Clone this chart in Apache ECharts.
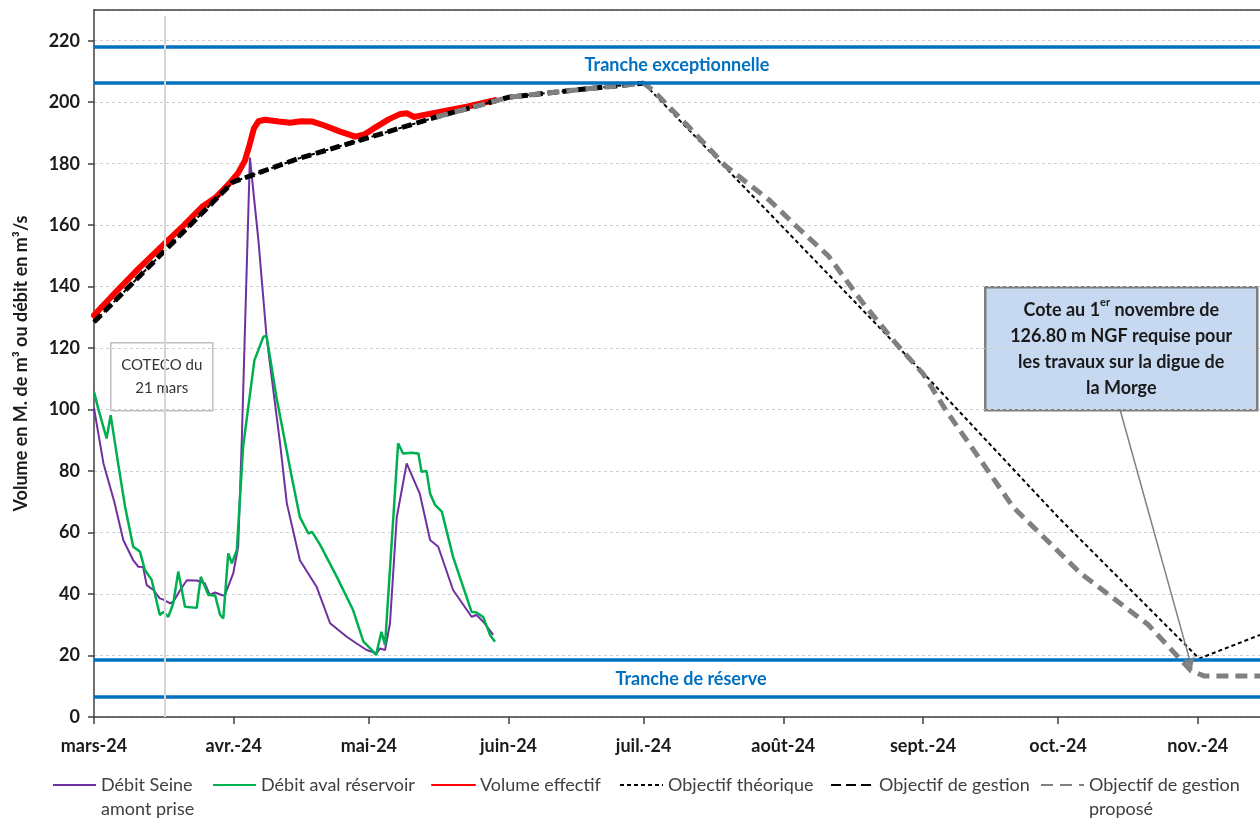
<!DOCTYPE html>
<html>
<head>
<meta charset="utf-8">
<script src="https://cdn.jsdelivr.net/npm/echarts@6/dist/echarts.min.js"></script>
<style>
  html, body { margin: 0; padding: 0; background: #fff; }
  #chart { width: 1260px; height: 818px; }
</style>
</head>
<body>
<div id="chart"></div>
<script>
// x = jours depuis le 1er mars 2024
const monthStarts = [0, 31, 61, 92, 122, 153, 184, 214, 245]
const monthLabels = ['mars-24', 'avr.-24', 'mai-24', 'juin-24', 'juil.-24', 'août-24', 'sept.-24', 'oct.-24', 'nov.-24']

const debitSeine = [
  [0, 100.5], [2.1, 82.5], [4.5, 70], [6.5, 57.6], [8.7, 51], [9.8, 48.9], [10.9, 48.8], [11.7, 42.9],
  [13.2, 41.3], [14.6, 38.6], [15.4, 38.2], [16.9, 37], [17.6, 37.5], [19, 41], [20.6, 44.5], [22.8, 44.4],
  [24.6, 43.5], [25.7, 39.7], [26.9, 40.5], [28.3, 39.7], [29, 39.5], [30.9, 46.7], [32, 55.4], [32.8, 90],
  [34.6, 182], [36.5, 155], [38.3, 123.7], [41.3, 89], [42.8, 69.5], [45.7, 51], [49.4, 42.4], [52.4, 30.5],
  [56.1, 26.1], [58.3, 23.9], [60.5, 21.8], [62.7, 20.7], [63.5, 22.3], [64.6, 21.8], [65.7, 30.5], [67.2, 65],
  [69.4, 82.5], [72.3, 72.7], [74.6, 57.6], [76.4, 55.4], [79.7, 41.3], [83.8, 32.6], [84.9, 33.2], [86.4, 31],
  [88.6, 26.7]
]
const debitAval = [
  [0, 105.8], [1, 100], [2.8, 90.6], [3.7, 98.2], [5.3, 83], [6.9, 68.4], [8.7, 55.4], [10.2, 53.8],
  [11.3, 47.8], [12.8, 44.6], [14.6, 33.2], [15.4, 34.2], [16.5, 32.6], [17.6, 37], [18.7, 47.3], [20.2, 35.9],
  [22.8, 35.5], [23.7, 45.6], [25.4, 39.7], [26.9, 39.5], [28, 33.2], [28.7, 32.1], [29.8, 53.2], [30.6, 50],
  [31.7, 54.3], [33.1, 88], [35.6, 116], [37.6, 123.7], [38.3, 124], [40.5, 104], [43.9, 78], [45.7, 65],
  [47.6, 59.7], [48.4, 60.2], [50.2, 56], [53.9, 45.6], [57.5, 34.8], [59.8, 24.5], [61.3, 22.3], [62.6, 20.2],
  [63.8, 27.7], [64.6, 23.4], [67.5, 89], [68.6, 85.7], [70.5, 86], [72, 85.7], [72.7, 79.8], [73.8, 80],
  [74.6, 72.7], [75.7, 69], [77.2, 66.8], [79.7, 52.1], [83.8, 34.2], [84.9, 34], [86.4, 32.5], [87.9, 26.7],
  [89, 24.5]
]
const volumeEffectif = [
  [0, 130.7], [5, 138.5], [10, 146], [16, 154.5], [20, 160], [24, 166], [27, 169], [30, 173.5], [32, 177],
  [33.5, 181], [34.5, 186], [35.5, 191.5], [36.5, 193.8], [38, 194.3], [41, 193.7], [43.5, 193.3], [46, 193.8],
  [48.5, 193.7], [51, 192.5], [54.5, 190.5], [58, 188.8], [60, 189.5], [62, 191.4], [65.5, 194.5], [68, 196.2],
  [69.5, 196.4], [71, 195.2], [73, 195.8], [77, 196.9], [83, 198.6], [89, 200.7]
]
const objectifGestion = [
  [0, 128.5], [30.8, 174], [45, 181.5], [61, 188.5], [76, 195.2], [92, 201.6], [107, 204], [122, 206.2]
]
const objectifTheorique = [
  [0, 128.5], [30.8, 174], [45, 181.5], [61, 188.5], [76, 195.2], [92, 201.6], [107, 204], [122, 206.2],
  [153, 159.2], [184, 112], [214, 65], [245.3, 19], [258.8, 26.7]
]
const objectifPropose = [
  [76, 195.2], [92, 201.6], [107, 204], [122, 206.2], [124, 204], [132, 192], [140, 179.5], [150, 168],
  [156, 159.5], [163, 150], [170.5, 135], [178, 121.5], [184, 111.7], [189, 100], [204, 68.3], [219, 46.7],
  [234, 30], [243.5, 15], [246.5, 13.3], [258.8, 13.3]
]
// tranches (M. m3)
const trancheExceptionnelle = [206.2, 218.2]
const trancheReserve = [6.5, 18.5]
const cotecoDay = 15.8

const FONT = 'Lato'
const chart = echarts.init(document.getElementById('chart'))

// une légende par entrée, pour placer chaque item comme dans Excel
function legendItem (name, left, label) {
  let twoLine = !!label
  return {
    data: [name],
    left: left,
    top: twoLine ? 749 : 773,
    orient: 'horizontal',
    padding: 0,
    itemWidth: 43,
    itemHeight: 14,
    itemGap: 0,
    selectedMode: false,
    // ligne vide en tête : la 1re ligne du texte reste alignée sur le pictogramme
    formatter: () => twoLine ? '\n' + label : name,
    itemStyle: { opacity: 0 },
    textStyle: {
      fontFamily: FONT,
      fontSize: 18,
      color: '#404040',
      lineHeight: 24
    }
  }
}

const option = {
  animation: false,
  backgroundColor: '#fff',
  grid: { left: 94, right: 0, top: 10, bottom: 101 },
  xAxis: [
    {
      type: 'value',
      min: 0,
      max: 258.8,
      axisLine: { lineStyle: { color: '#404040', width: 1.5 } },
      axisTick: { customValues: monthStarts, length: 7, lineStyle: { color: '#404040', width: 1.5 } },
      axisLabel: {
        customValues: monthStarts,
        formatter: v => monthLabels[monthStarts.indexOf(v)],
        margin: 20,
        fontFamily: FONT,
        fontSize: 18,
        fontWeight: 'bold',
        color: '#1a1a1a'
      },
      splitLine: { show: false }
    },
    {
      type: 'value',
      position: 'top',
      min: 0,
      max: 258.8,
      axisLine: { show: true, lineStyle: { color: '#404040', width: 1.5 } },
      axisTick: { show: false },
      axisLabel: { show: false },
      splitLine: { show: false }
    }
  ],
  yAxis: {
    type: 'value',
    min: 0,
    max: 230,
    interval: 20,
    name: 'Volume en M. de m³ ou débit en m³/s',
    nameLocation: 'middle',
    nameRotate: 90,
    nameGap: 64,
    nameTextStyle: { fontFamily: FONT, fontSize: 18, fontWeight: 'bold', color: '#1a1a1a' },
    axisLine: { show: true, lineStyle: { color: '#404040', width: 1.5 } },
    axisTick: { show: true, length: 6, lineStyle: { color: '#404040', width: 1.5 } },
    axisLabel: {
      showMaxLabel: false,
      margin: 14,
      fontFamily: FONT,
      fontSize: 18,
      fontWeight: 'bold',
      color: '#1a1a1a'
    },
    splitLine: { lineStyle: { color: '#cfcfcf', width: 1, type: [3, 3] } }
  },
  legend: [
    legendItem('Débit Seine amont prise', 52, 'Débit Seine\namont prise'),
    legendItem('Débit aval réservoir', 212),
    legendItem('Volume effectif', 431),
    legendItem('Objectif théorique', 619),
    legendItem('Objectif de gestion', 830),
    legendItem('Objectif de gestion proposé', 1040, 'Objectif de gestion\nproposé')
  ],
  graphic: [
    {
      type: 'group',
      left: 110,
      top: 342,
      children: [
        { type: 'rect', shape: { width: 102, height: 68 }, style: { fill: '#fff', stroke: '#bfbfbf', lineWidth: 1.5 } },
        {
          type: 'text',
          x: 51,
          y: 34,
          style: {
            text: 'COTECO du\n21 mars',
            align: 'center',
            verticalAlign: 'middle',
            fontFamily: FONT,
            fontSize: 15,
            lineHeight: 23,
            fill: '#333'
          }
        }
      ]
    },
    {
      type: 'group',
      left: 984,
      top: 286,
      children: [
        { type: 'rect', shape: { width: 272, height: 123 }, style: { fill: '#c6d9f1', stroke: '#7f7f7f', lineWidth: 2.5 } },
        {
          type: 'text',
          x: 136,
          y: 62,
          style: {
            text: 'Cote au 1{sup|er} novembre de\n126.80 m NGF requise pour\nles travaux sur la digue de\nla Morge',
            align: 'center',
            verticalAlign: 'middle',
            fontFamily: FONT,
            fontSize: 18,
            fontWeight: 'bold',
            lineHeight: 26,
            fill: '#1a1a1a',
            rich: {
              sup: { fontFamily: FONT, fontSize: 11, fontWeight: 'bold', fill: '#1a1a1a', verticalAlign: 'top', padding: [0, 0, 8, 0] }
            }
          }
        }
      ]
    }
  ],
  series: [
    {
      name: 'Débit Seine amont prise',
      type: 'line',
      symbol: 'none',
      data: debitSeine,
      lineStyle: { color: '#7030a0', width: 2 },
      itemStyle: { color: '#7030a0' },
      markLine: {
        silent: true,
        symbol: 'none',
        animation: false,
        label: { show: false },
        lineStyle: { color: '#0070c0', width: 3.5, type: 'solid' },
        data: [
          { yAxis: trancheExceptionnelle[1] },
          {
            yAxis: trancheExceptionnelle[0],
            label: {
              show: true,
              position: 'middle',
              distance: 9,
              formatter: 'Tranche exceptionnelle',
              fontFamily: FONT,
              fontSize: 18,
              fontWeight: 'bold',
              color: '#0070c0'
            }
          },
          { yAxis: trancheReserve[1] },
          {
            yAxis: trancheReserve[0],
            label: {
              show: true,
              position: 'middle',
              distance: 9,
              offset: [14, 0],
              formatter: 'Tranche de réserve',
              fontFamily: FONT,
              fontSize: 18,
              fontWeight: 'bold',
              color: '#0070c0'
            }
          },
          [
            { coord: [cotecoDay, 0], lineStyle: { color: '#d6d6d6', width: 2, type: 'solid' } },
            { coord: [cotecoDay, 228] }
          ],
          [
            { coord: [227.7, 100.2], symbol: 'none', lineStyle: { color: '#808080', width: 1.5, type: 'solid' } },
            { coord: [243.7, 15.9], symbol: 'arrow', symbolSize: [9, 11] }
          ]
        ]
      }
    },
    {
      name: 'Débit aval réservoir',
      type: 'line',
      symbol: 'none',
      data: debitAval,
      lineStyle: { color: '#00b050', width: 2.5 },
      itemStyle: { color: '#00b050' }
    },
    {
      name: 'Volume effectif',
      type: 'line',
      symbol: 'none',
      data: volumeEffectif,
      lineStyle: { color: '#ff0000', width: 6, cap: 'round', join: 'round' },
      itemStyle: { color: '#ff0000' }
    },
    {
      name: 'Objectif théorique',
      type: 'line',
      symbol: 'none',
      data: objectifTheorique,
      lineStyle: { color: '#000', width: 2, type: [4, 3] },
      itemStyle: { color: '#000' }
    },
    {
      name: 'Objectif de gestion',
      type: 'line',
      symbol: 'none',
      data: objectifGestion,
      lineStyle: { color: '#000', width: 5, type: [10, 5] },
      itemStyle: { color: '#000' }
    },
    {
      name: 'Objectif de gestion proposé',
      type: 'line',
      symbol: 'none',
      data: objectifPropose,
      lineStyle: { color: '#808080', width: 5, type: [12, 7] },
      itemStyle: { color: '#808080' }
    }
  ]
}

chart.setOption(option)
</script>
</body>
</html>
